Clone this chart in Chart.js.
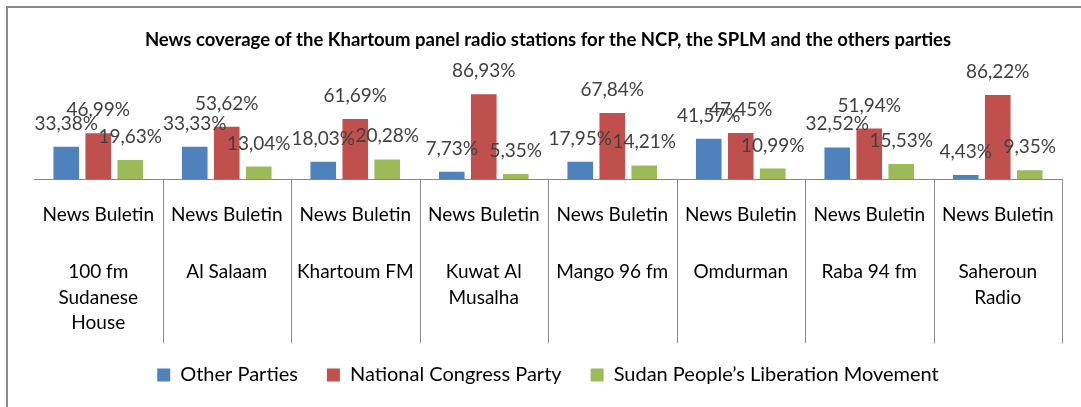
<!DOCTYPE html>
<html>
<head>
<meta charset="utf-8">
<script src="https://cdn.jsdelivr.net/npm/chart.js@4"></script>
<style>
    body { margin: 0; background: #fff; overflow: hidden; }
    #frame { position: absolute; left: 6px; top: 6px; width: 1200px; height: 500px;
             border-left: 2px solid #8a8a8a; border-top: 2px solid #8a8a8a; }
    #myChart { position: absolute; left: 0; top: 0; }
</style>
</head>
<body>
<div id="frame"></div>
<canvas id="myChart" width="1081" height="407"></canvas>
<script>
// DATA
const programmes = ["News Buletin", "News Buletin", "News Buletin", "News Buletin",
                    "News Buletin", "News Buletin", "News Buletin", "News Buletin"];
const stations = [["100 fm", "Sudanese", "House"], ["Al Salaam"], ["Khartoum FM"], ["Kuwat Al", "Musalha"],
                  ["Mango 96 fm"], ["Omdurman"], ["Raba 94 fm"], ["Saheroun", "Radio"]];
const otherParties = [33.38, 33.33, 18.03, 7.73, 17.95, 41.57, 32.52, 4.43];
const ncp = [46.99, 53.62, 61.69, 86.93, 67.84, 47.45, 51.94, 86.22];
const splm = [19.63, 13.04, 20.28, 5.35, 14.21, 10.99, 15.53, 9.35];
const seriesNames = ["Other Parties", "National Congress Party", "Sudan People\u2019s Liberation Movement"];

const FONT = "Lato, 'Open Sans', sans-serif";

function fmt(v) {
    return v.toFixed(2).replace(".", ",") + "%";
}

// labels above the bars
const valueLabels = {
    id: "valueLabels",
    afterDatasetsDraw(chart) {
        const ctx = chart.ctx;
        ctx.save();
        ctx.font = "19px " + FONT;
        ctx.fillStyle = "#404040";
        ctx.textAlign = "center";
        ctx.textBaseline = "alphabetic";
        chart.data.datasets.forEach((ds, i) => {
            chart.getDatasetMeta(i).data.forEach((bar, j) => {
                ctx.fillText(fmt(ds.data[j]), bar.x, bar.y - 17);
            });
        });
        ctx.restore();
    }
};

// vertical lines between the categories, under the axis
const separators = {
    id: "separators",
    afterDraw(chart) {
        const x = chart.scales.x;
        const n = x.ticks.length;
        const step = x.width / n;
        const ctx = chart.ctx;
        ctx.save();
        ctx.strokeStyle = "#8c8c8c";
        ctx.lineWidth = 1;
        ctx.beginPath();
        for (let i = 1; i <= n; i++) {
            const px = Math.round(x.left + i * step) + 0.5;
            ctx.moveTo(px, x.top);
            ctx.lineTo(px, x.top + 164);
        }
        ctx.stroke();
        ctx.restore();
    }
};

const ctx1 = document.getElementById("myChart").getContext("2d");
const myChart = new Chart(ctx1, {
    type: "bar",
    data: {
        labels: programmes,
        datasets: [
            { label: seriesNames[0], data: otherParties, backgroundColor: "#4F81BD" },
            { label: seriesNames[1], data: ncp, backgroundColor: "#C0504D" },
            { label: seriesNames[2], data: splm, backgroundColor: "#9BBB59" },
        ],
    },
    options: {
        responsive: false,
        animation: false,
        events: [],
        barPercentage: 0.8,
        categoryPercentage: 0.747,
        layout: { padding: { left: 34, right: 19, top: 0, bottom: 12 } },
        scales: {
            y: { display: false, min: 0, max: 100 },
            x: {
                weight: 0,
                grid: { display: false, drawTicks: false },
                border: { display: true, color: "#868686", width: 1 },
                ticks: { color: "#000", padding: 22.8, maxRotation: 0, autoSkip: false,
                         font: { family: FONT, size: 19, lineHeight: "25.8px" } },
                afterFit(scale) { scale.height = 48.6; },
            },
            x2: {
                type: "category",
                position: "bottom",
                weight: 1,
                labels: stations,
                offset: true,
                grid: { display: false, drawTicks: false },
                border: { display: false },
                ticks: { color: "#000", padding: 30.9, maxRotation: 0, autoSkip: false,
                         font: { family: FONT, size: 19, lineHeight: "25.8px" } },
                afterFit(scale) { scale.height = 108.1; },
            },
        },
        plugins: {
            title: {
                display: true,
                text: "News coverage of the Khartoum panel radio stations for the NCP, the SPLM and the others parties",
                color: "#000",
                font: { family: FONT, size: 18.5, weight: "bold", lineHeight: 1.2 },
                padding: { top: 28.9, bottom: 30.4 },
            },
            legend: {
                position: "bottom",
                labels: { boxWidth: 13, boxHeight: 13, padding: 29, color: "#000",
                          font: { family: FONT, size: 20 } },
            },
            tooltip: { enabled: false },
        },
    },
    plugins: [valueLabels, separators],
});
</script>
</body>
</html>
